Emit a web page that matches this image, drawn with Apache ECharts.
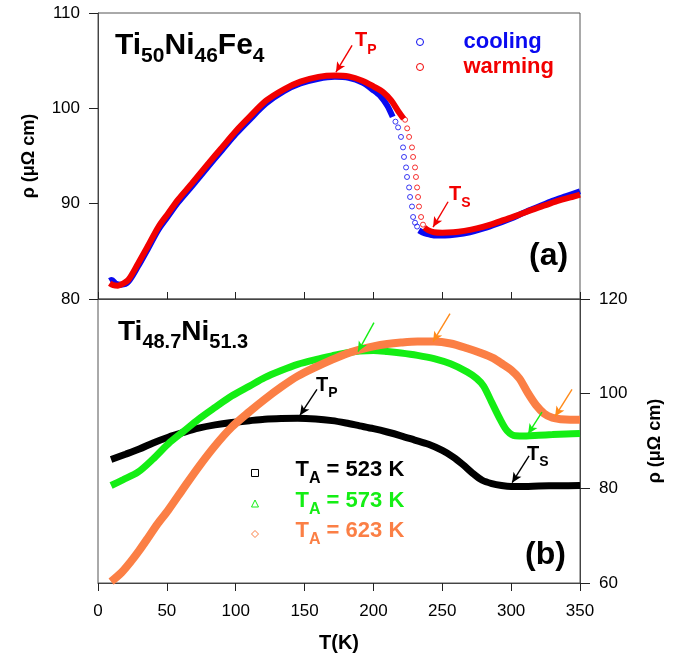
<!DOCTYPE html>
<html>
<head>
<meta charset="utf-8">
<script src="https://cdn.jsdelivr.net/npm/echarts@6/dist/echarts.min.js"></script>
<style>
html,body{margin:0;padding:0;background:#fff;}
#chart{width:676px;height:654px;}
</style>
</head>
<body>
<div id="chart"></div>
<script>
// ---------- Panel (a): Ti50Ni46Fe4 ----------
// cooling (blue): smooth part before drop, discrete circles in drop, smooth part after drop
const coolPreT   = [8.5, 10, 13, 17, 22, 29, 36, 44, 51, 58, 68, 80, 90, 100, 110, 122, 135, 147, 160, 172, 182, 192, 200, 205, 210, 214];
const coolPreRho = [81.9, 82.0, 81.6, 81.5, 81.8, 83.4, 85.2, 87.3, 88.7, 90.1, 91.8, 93.9, 95.6, 97.3, 98.8, 100.5, 101.8, 102.6, 103.1, 103.3, 103.2, 102.7, 101.9, 101.3, 100.3, 99.1];
const coolDropT   = [216, 217.9, 220.0, 221.5, 222.2, 223.7, 224.4, 225.9, 226.6, 228.0, 228.8, 230.2, 231.7];
const coolDropRho = [98.6, 98.0, 97.0, 95.9, 94.9, 93.8, 92.8, 91.7, 90.7, 89.7, 88.6, 88.0, 87.6];
const coolPostT   = [233, 237, 241, 246, 252, 260, 270, 280, 290, 300, 310, 320, 330, 340, 350];
const coolPostRho = [87.2, 86.9, 86.75, 86.65, 86.65, 86.75, 87.0, 87.4, 87.9, 88.45, 89.1, 89.7, 90.3, 90.8, 91.3];

// warming (red)
const warmPreT   = [8.5, 11, 14.5, 18, 22, 29, 36, 44, 51, 58, 68, 80, 90, 100, 110, 122, 135, 147, 160, 172, 182, 192, 200, 207, 213, 218, 222];
const warmPreRho = [81.65, 81.45, 81.4, 81.6, 82.0, 83.7, 85.5, 87.6, 89.0, 90.4, 92.1, 94.2, 95.9, 97.6, 99.1, 100.8, 102.0, 102.8, 103.3, 103.45, 103.35, 102.9, 102.3, 101.7, 100.8, 99.7, 98.9];
const warmDropT   = [223, 224.5, 225.9, 228.0, 228.8, 230.2, 230.9, 231.7, 232.4, 233.1, 234.6, 236.0];
const warmDropRho = [98.8, 97.9, 97.0, 95.9, 94.9, 93.8, 92.8, 91.7, 90.7, 89.7, 88.6, 87.8];
const warmPostT   = [237, 240, 244, 250, 258, 266, 275, 285, 295, 305, 315, 325, 335, 343, 350];
const warmPostRho = [87.5, 87.2, 87.0, 86.95, 87.0, 87.15, 87.4, 87.8, 88.3, 88.8, 89.35, 89.85, 90.35, 90.65, 90.95];

// ---------- Panel (b): Ti48.7Ni51.3 ----------
const t523 = [9.5, 20, 30, 40, 51, 62, 73, 85, 97, 110, 121, 133, 145, 158, 170, 180, 190, 200, 210, 220, 230, 240, 250, 258, 265, 272, 279, 286, 293, 300, 310, 320, 335, 350];
const r523 = [86.1, 87.2, 88.3, 89.6, 90.8, 91.8, 92.7, 93.4, 93.9, 94.3, 94.6, 94.75, 94.8, 94.65, 94.3, 93.8, 93.2, 92.6, 91.9, 91.1, 90.2, 89.3, 88.0, 86.6, 85.0, 83.2, 81.7, 81.0, 80.6, 80.4, 80.4, 80.5, 80.55, 80.6];
const t573 = [9.5, 18, 29, 40, 51, 62, 73, 85, 97, 110, 121, 133, 145, 158, 170, 180, 190, 200, 210, 220, 232, 244, 256, 268, 275, 280, 286, 292, 297, 303, 311, 320, 330, 340, 350];
const r573 = [80.6, 81.8, 83.4, 86.2, 89.4, 92.0, 94.6, 97.1, 99.5, 101.6, 103.4, 104.9, 106.2, 107.2, 108.0, 108.6, 109.0, 109.1, 108.9, 108.6, 108.1, 107.4, 106.3, 104.6, 103.2, 101.6, 98.1, 94.6, 92.2, 91.1, 91.05, 91.2, 91.35, 91.5, 91.6];
const t623 = [9.5, 17, 24, 30, 36, 43, 51, 62, 73, 85, 97, 110, 121, 133, 145, 158, 170, 180, 190, 200, 210, 220, 232, 244, 256, 268, 278, 287, 294, 300, 306, 312, 318, 324, 330, 336, 343, 350];
const r623 = [60.3, 62.2, 64.6, 66.9, 69.4, 72.4, 75.4, 80.0, 84.5, 89.0, 92.9, 96.2, 98.8, 101.4, 103.7, 105.6, 107.2, 108.4, 109.3, 110.0, 110.5, 110.8, 111.0, 111.0, 110.6, 109.6, 108.6, 107.5, 106.2, 105.0, 103.2, 100.2, 97.6, 95.8, 94.9, 94.6, 94.5, 94.5];

// axis ticks
const xTicks = {min: 0, max: 350, step: 50};
const yTopTicks = {min: 80, max: 110, step: 10};
const yBotTicks = {min: 60, max: 120, step: 20};

// annotation arrows: [fromT, fromRho, toT, toRho]
const arrowTP_a = [184.5, 106.6, 172.8, 103.8];
const arrowTS_a = [254.2, 90.2, 243.3, 87.55];
const arrowTP_b = [159.0, 100.9, 146.7, 95.45];
const arrowTS_b = [313.0, 86.85, 300.7, 81.2];
const arrowG1 = [200.4, 115.0, 188.8, 108.9];
const arrowG2 = [322.4, 96.1, 312.3, 91.5];
const arrowO1 = [255.6, 116.9, 243.3, 111.0];
const arrowO2 = [344.2, 100.9, 331.9, 95.2];

const zip = (a, b) => a.map((v, i) => [v, b[i]]);
const FONT = 'Liberation Sans, Arial, sans-serif';
const BLUE = '#0a0af0', RED = '#f20000', GREEN = '#14ee14', ORANGE = '#fb7f45', ORANGE_AR = '#ff8a1a';

function arrows(list) {
  return {
    silent: true, animation: false,
    symbol: ['none', 'arrow'], symbolSize: [7, 10],
    label: {show: false},
    data: list.map(([a, c]) => [{coord: [a[0], a[1]], lineStyle: {color: c, width: 1.4, type: 'solid'}}, {coord: [a[2], a[3]]}])
  };
}
// rich text with a lowered subscript
function subRich(M, S, L) {
  return {
    m: {fontSize: M, fontWeight: 'bold', fontFamily: FONT, lineHeight: L, verticalAlign: 'top'},
    s: {fontSize: S, fontWeight: 'bold', fontFamily: FONT, lineHeight: S, verticalAlign: 'bottom'}
  };
}

const chart = echarts.init(document.getElementById('chart'), null, {renderer: 'canvas'});

const axisLineStyle = {color: '#444', width: 1};
const labelStyle = {color: '#000', fontSize: 17, fontFamily: FONT};

const option = {
  animation: false,
  backgroundColor: '#fff',
  textStyle: {fontFamily: FONT},
  grid: [
    {left: 98, top: 13, width: 482, height: 286, show: true, borderColor: '#555', borderWidth: 1, backgroundColor: 'transparent'},
    {left: 98, top: 299, width: 482, height: 286, show: true, borderColor: '#555', borderWidth: 1, backgroundColor: 'transparent'}
  ],
  xAxis: [
    {gridIndex: 0, type: 'value', min: xTicks.min, max: xTicks.max, interval: xTicks.step,
     axisLine: {show: true, onZero: false, lineStyle: axisLineStyle},
     axisTick: {show: true, inside: true, length: 7, lineStyle: {color: '#222'}},
     axisLabel: {show: false}, splitLine: {show: false}},
    {gridIndex: 1, type: 'value', min: xTicks.min, max: xTicks.max, interval: xTicks.step,
     axisLine: {show: true, onZero: false, lineStyle: axisLineStyle},
     axisTick: {show: true, inside: false, length: 8, lineStyle: {color: '#222'}},
     axisLabel: Object.assign({margin: 20}, labelStyle), splitLine: {show: false},
     name: 'T(K)', nameLocation: 'middle', nameGap: 50,
     nameTextStyle: {fontSize: 20, fontWeight: 'bold', color: '#000', fontFamily: FONT}}
  ],
  yAxis: [
    {gridIndex: 0, type: 'value', position: 'left', min: yTopTicks.min, max: yTopTicks.max, interval: yTopTicks.step,
     axisLine: {show: true, onZero: false, lineStyle: axisLineStyle},
     axisTick: {show: true, inside: false, length: 9, lineStyle: {color: '#222'}},
     axisLabel: Object.assign({margin: 18}, labelStyle), splitLine: {show: false},
     name: 'ρ (μΩ cm)', nameLocation: 'middle', nameGap: 60, nameRotate: 90,
     nameTextStyle: {fontSize: 18, fontWeight: 'bold', color: '#000', fontFamily: FONT}},
    {gridIndex: 1, type: 'value', position: 'right', min: yBotTicks.min, max: yBotTicks.max, interval: yBotTicks.step,
     axisLine: {show: true, onZero: false, lineStyle: axisLineStyle},
     axisTick: {show: true, inside: false, length: 10, lineStyle: {color: '#222'}},
     axisLabel: Object.assign({margin: 19}, labelStyle), splitLine: {show: false},
     name: 'ρ (μΩ cm)', nameLocation: 'middle', nameGap: 66, nameRotate: 90,
     nameTextStyle: {fontSize: 18, fontWeight: 'bold', color: '#000', fontFamily: FONT}}
  ],
  legend: [
    {orient: 'vertical', left: 416, top: 31, padding: 0, itemWidth: 7, itemHeight: 7, itemGap: 3,
     selectedMode: false,
     data: [
       {name: 'cooling', icon: 'circle', itemStyle: {color: 'rgba(0,0,0,0)', borderColor: BLUE, borderWidth: 1}, textStyle: {color: BLUE}},
       {name: 'warming', icon: 'circle', itemStyle: {color: 'rgba(0,0,0,0)', borderColor: RED, borderWidth: 1}, textStyle: {color: RED}}
     ],
     formatter: n => '{g|}{t|' + n + '}',
     textStyle: {fontFamily: FONT, fontWeight: 'bold', fontSize: 22,
       rich: {g: {width: 35}, t: {fontSize: 22, fontWeight: 'bold', fontFamily: FONT, lineHeight: 22}}}},
    {orient: 'vertical', left: 251, top: 459, padding: 0, itemWidth: 7, itemHeight: 7, itemGap: 2.5,
     selectedMode: false,
     data: [
       {name: 'TA = 523 K', icon: 'rect', itemStyle: {color: 'rgba(0,0,0,0)', borderColor: '#000', borderWidth: 1}, textStyle: {color: '#000'}},
       {name: 'TA = 573 K', icon: 'triangle', itemStyle: {color: 'rgba(0,0,0,0)', borderColor: GREEN, borderWidth: 1}, textStyle: {color: GREEN}},
       {name: 'TA = 623 K', icon: 'diamond', itemStyle: {color: 'rgba(0,0,0,0)', borderColor: ORANGE, borderWidth: 1}, textStyle: {color: ORANGE}}
     ],
     formatter: n => '{g|}{m|T}{s|A}{m|' + n.slice(2) + '}',
     textStyle: {fontFamily: FONT, fontWeight: 'bold', fontSize: 22,
       rich: Object.assign({g: {width: 32}}, subRich(22, 16, 28))}}
  ],
  series: [
    // panel (a)
    {name: 'cooling', type: 'line', xAxisIndex: 0, yAxisIndex: 0, data: zip(coolPreT, coolPreRho), smooth: 0.3,
     showSymbol: false, symbol: 'circle', lineStyle: {color: BLUE, width: 6}, itemStyle: {color: BLUE}, z: 2},
    {name: 'cooling', type: 'line', xAxisIndex: 0, yAxisIndex: 0, data: zip(coolPostT, coolPostRho), smooth: 0.3,
     showSymbol: false, symbol: 'circle', lineStyle: {color: BLUE, width: 6}, itemStyle: {color: BLUE}, z: 2},
    {name: 'cooling', type: 'scatter', xAxisIndex: 0, yAxisIndex: 0, data: zip(coolDropT, coolDropRho),
     symbol: 'circle', symbolSize: 5, itemStyle: {color: 'rgba(0,0,0,0)', borderColor: BLUE, borderWidth: 1}, z: 2},
    {name: 'warming', type: 'line', xAxisIndex: 0, yAxisIndex: 0, data: zip(warmPreT, warmPreRho), smooth: 0.3,
     showSymbol: false, symbol: 'circle', lineStyle: {color: RED, width: 6}, itemStyle: {color: RED}, z: 3,
     markLine: arrows([[arrowTP_a, RED], [arrowTS_a, RED]])},
    {name: 'warming', type: 'line', xAxisIndex: 0, yAxisIndex: 0, data: zip(warmPostT, warmPostRho), smooth: 0.3,
     showSymbol: false, symbol: 'circle', lineStyle: {color: RED, width: 6}, itemStyle: {color: RED}, z: 3},
    {name: 'warming', type: 'scatter', xAxisIndex: 0, yAxisIndex: 0, data: zip(warmDropT, warmDropRho),
     symbol: 'circle', symbolSize: 5, itemStyle: {color: 'rgba(0,0,0,0)', borderColor: RED, borderWidth: 1}, z: 3},
    // panel (b)
    {name: 'TA = 523 K', type: 'line', xAxisIndex: 1, yAxisIndex: 1, data: zip(t523, r523), smooth: 0.3,
     showSymbol: false, symbol: 'rect', lineStyle: {color: '#000', width: 7}, itemStyle: {color: '#000'}, z: 2,
     markLine: arrows([[arrowTP_b, '#000'], [arrowTS_b, '#000']])},
    {name: 'TA = 573 K', type: 'line', xAxisIndex: 1, yAxisIndex: 1, data: zip(t573, r573), smooth: 0.3,
     showSymbol: false, symbol: 'triangle', lineStyle: {color: GREEN, width: 7}, itemStyle: {color: GREEN}, z: 3,
     markLine: arrows([[arrowG1, GREEN], [arrowG2, GREEN]])},
    {name: 'TA = 623 K', type: 'line', xAxisIndex: 1, yAxisIndex: 1, data: zip(t623, r623), smooth: 0.3,
     showSymbol: false, symbol: 'diamond', lineStyle: {color: ORANGE, width: 8}, itemStyle: {color: ORANGE}, z: 4,
     markLine: arrows([[arrowO1, ORANGE_AR], [arrowO2, ORANGE_AR]])}
  ],
  graphic: [
    {type: 'text', left: 115, top: 31, z: 10, style: {
      text: '{m|Ti}{s|50}{m|Ni}{s|46}{m|Fe}{s|4}', fill: '#000', rich: subRich(30, 21, 36)}},
    {type: 'text', left: 118, top: 318, z: 10, style: {
      text: '{m|Ti}{s|48.7}{m|Ni}{s|51.3}', fill: '#000', rich: subRich(28, 20, 34)}},
    {type: 'text', left: 529, top: 240, z: 10, style: {text: '(a)', fill: '#000', fontSize: 32, fontWeight: 'bold', fontFamily: FONT}},
    {type: 'text', left: 525, top: 539, z: 10, style: {text: '(b)', fill: '#000', fontSize: 32, fontWeight: 'bold', fontFamily: FONT}},
    {type: 'text', left: 355, top: 30, z: 10, style: {text: '{m|T}{s|P}', fill: RED, rich: subRich(20, 14, 27)}},
    {type: 'text', left: 449, top: 184, z: 10, style: {text: '{m|T}{s|S}', fill: RED, rich: subRich(20, 14, 26)}},
    {type: 'text', left: 316, top: 375, z: 10, style: {text: '{m|T}{s|P}', fill: '#000', rich: subRich(20, 14, 25)}},
    {type: 'text', left: 527, top: 444, z: 10, style: {text: '{m|T}{s|S}', fill: '#000', rich: subRich(20, 14, 25)}}
  ]
};
chart.setOption(option);
</script>
</body>
</html>
